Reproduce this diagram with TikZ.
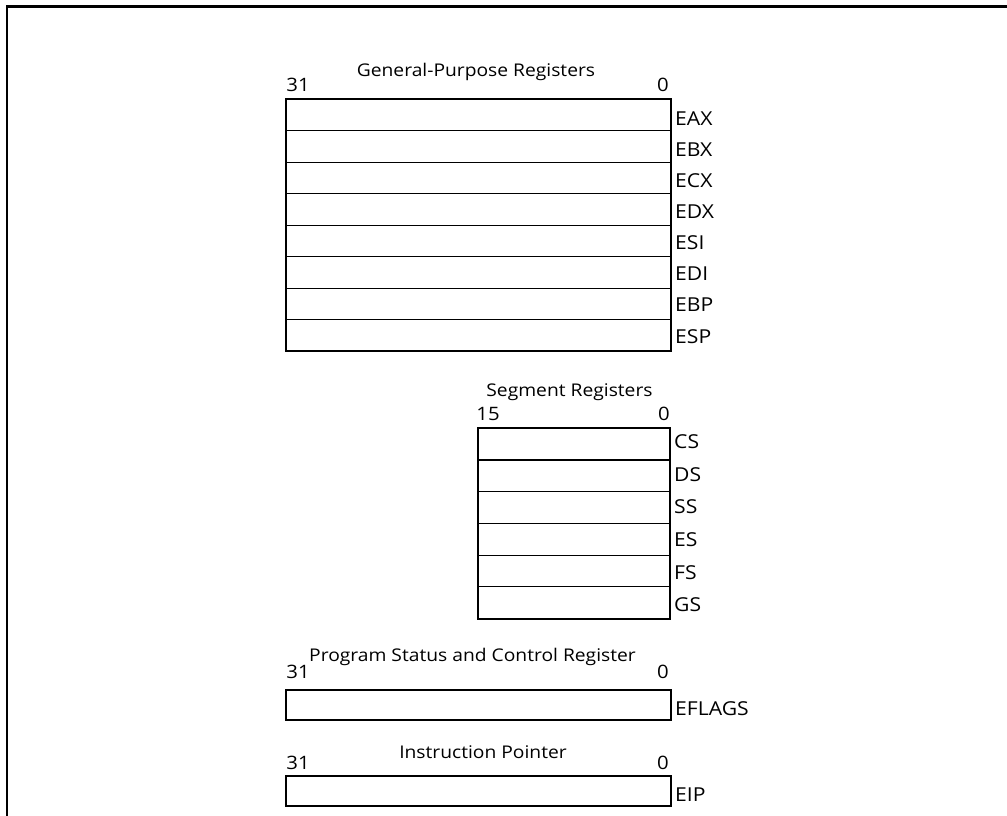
\documentclass[tikz,border=0pt]{standalone}
\usepackage{fontspec}
\setmainfont[FakeStretch=1.1]{Open Sans}
\begin{document}
\begin{tikzpicture}[x=1pt,y=-1pt,
  cell/.style={draw, line width=1.1pt, inner sep=0pt, outer sep=0pt, anchor=north west, minimum height=31.5pt},
  wide/.style={cell, minimum width=385pt},
  narrow/.style={cell, minimum width=192pt, minimum height=31.7pt},
  single/.style={cell, minimum width=385pt, minimum height=30pt},
  outer/.style={line width=2pt},
  ttl/.style={font=\fontsize{17.5}{19}\selectfont, anchor=base, inner sep=0pt},
  bit/.style={font=\fontsize{18.5}{20}\selectfont, anchor=base, inner sep=0pt},
  lbl/.style={font=\fontsize{19.2}{21}\selectfont, anchor=base west, inner sep=0pt},
]
\useasboundingbox (0,0) rectangle (1007,816);
% frame
\draw[line width=2.7pt] (7,816) -- (7,6.3) -- (1007,6.3);

% General-purpose registers
\node[ttl] (gprt) at (476,77) {General-Purpose Registers};
\node[bit] (gpr31) at (298,91.7) {31};
\node[bit] (gpr0) at (663,91.7) {0};
\node[wide] (eax) at (285.5,99.3) {};
\node[wide] (ebx) at (eax.south west) {};
\node[wide] (ecx) at (ebx.south west) {};
\node[wide] (edx) at (ecx.south west) {};
\node[wide] (esi) at (edx.south west) {};
\node[wide] (edi) at (esi.south west) {};
\node[wide] (ebp) at (edi.south west) {};
\node[wide] (esp) at (ebp.south west) {};
\draw[outer] (eax.north west) rectangle (esp.south east);
\node[lbl] (leax) at (675,125) {EAX};
\node[lbl] (lebx) at (675,156.2) {EBX};
\node[lbl] (lecx) at (675,187.3) {ECX};
\node[lbl] (ledx) at (675,218.5) {EDX};
\node[lbl] (lesi) at (675,249.6) {ESI};
\node[lbl] (ledi) at (675,280.8) {EDI};
\node[lbl] (lebp) at (675,311.9) {EBP};
\node[lbl] (lesp) at (675,343) {ESP};

% Segment registers
\node[ttl] (segt) at (569.5,396.7) {Segment Registers};
\node[bit] (seg15) at (488,420.7) {15};
\node[bit] (seg0) at (664,420.7) {0};
\node[narrow] (cs) at (478,428.3) {};
\node[narrow] (ds) at (cs.south west) {};
\node[narrow] (ss) at (ds.south west) {};
\node[narrow] (es) at (ss.south west) {};
\node[narrow] (fs) at (es.south west) {};
\node[narrow] (gs) at (fs.south west) {};
\draw[outer] (cs.north west) rectangle (gs.south east);
\node[lbl] (lcs) at (674,448.3) {CS};
\node[lbl] (lds) at (674,481) {DS};
\node[lbl] (lss) at (674,513.7) {SS};
\node[lbl] (les) at (674,546.4) {ES};
\node[lbl] (lfs) at (674,579.1) {FS};
\node[lbl] (lgs) at (674,611.7) {GS};

% EFLAGS
\node[ttl] (eft) at (472.5,661.7) {Program Status and Control Register};
\node[bit] (ef31) at (298,678.3) {31};
\node[bit] (ef0) at (663,678.3) {0};
\node[single] (eflags) at (285.5,690) {};
\draw[outer] (eflags.north west) rectangle (eflags.south east);
\node[lbl] (leflags) at (675,715) {EFLAGS};

% EIP
\node[ttl] (eipt) at (483,758.3) {Instruction Pointer};
\node[bit] (eip31) at (298,769.3) {31};
\node[bit] (eip0) at (663,769.3) {0};
\node[single] (eip) at (285.5,776) {};
\draw[outer] (eip.north west) rectangle (eip.south east);
\node[lbl] (leip) at (675,801.7) {EIP};
\end{tikzpicture}
\end{document}
